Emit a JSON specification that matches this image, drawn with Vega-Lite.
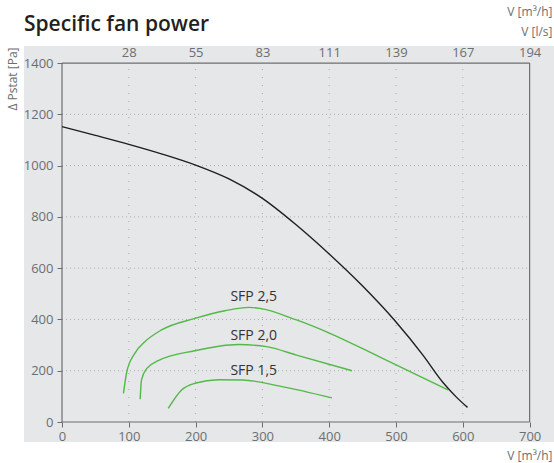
{
  "$schema": "https://vega.github.io/schema/vega-lite/v6.json",
  "width": 530,
  "height": 396,
  "autosize": {"type": "none"},
  "padding": {"left": 24, "top": 46, "right": 0, "bottom": 21},
  "background": "#ffffff",
  "view": {"fill": "#e6e7e8", "stroke": null},
  "title": {
    "text": "Specific fan power",
    "anchor": "start",
    "frame": "group",
    "font": "Open Sans",
    "fontSize": 21,
    "fontWeight": 600,
    "color": "#231f20",
    "offset": 0,
    "dy": 30
  },
  "config": {
    "font": "Open Sans",
    "axis": {
      "labelFont": "Open Sans",
      "titleFont": "Open Sans",
      "labelColor": "#6d6e71",
      "titleColor": "#6d6e71",
      "tickColor": "#6d6e71",
      "labelFontSize": 13,
      "titleFontSize": 12,
      "titleFontWeight": "normal",
      "labelFlush": false,
      "labelOverlap": false,
      "grid": false,
      "domain": false
    }
  },
  "datasets": {
    "curves": [
      {"series": "Fan", "q": 0, "p": 1152},
      {"series": "Fan", "q": 50, "p": 1118},
      {"series": "Fan", "q": 100, "p": 1083},
      {"series": "Fan", "q": 150, "p": 1045},
      {"series": "Fan", "q": 200, "p": 1002},
      {"series": "Fan", "q": 250, "p": 948},
      {"series": "Fan", "q": 300, "p": 872},
      {"series": "Fan", "q": 350, "p": 770},
      {"series": "Fan", "q": 400, "p": 655},
      {"series": "Fan", "q": 450, "p": 530},
      {"series": "Fan", "q": 500, "p": 390},
      {"series": "Fan", "q": 540, "p": 262},
      {"series": "Fan", "q": 570, "p": 155},
      {"series": "Fan", "q": 590, "p": 98},
      {"series": "Fan", "q": 607, "p": 57},
      {"series": "SFP 2,5", "q": 92, "p": 112},
      {"series": "SFP 2,5", "q": 97, "p": 196},
      {"series": "SFP 2,5", "q": 109, "p": 268},
      {"series": "SFP 2,5", "q": 124, "p": 313},
      {"series": "SFP 2,5", "q": 149, "p": 359},
      {"series": "SFP 2,5", "q": 199, "p": 404},
      {"series": "SFP 2,5", "q": 244, "p": 434},
      {"series": "SFP 2,5", "q": 280, "p": 447},
      {"series": "SFP 2,5", "q": 296, "p": 443},
      {"series": "SFP 2,5", "q": 351, "p": 398},
      {"series": "SFP 2,5", "q": 401, "p": 346},
      {"series": "SFP 2,5", "q": 476, "p": 253},
      {"series": "SFP 2,5", "q": 578, "p": 125},
      {"series": "SFP 2,0", "q": 117, "p": 89},
      {"series": "SFP 2,0", "q": 119, "p": 164},
      {"series": "SFP 2,0", "q": 127, "p": 209},
      {"series": "SFP 2,0", "q": 144, "p": 239},
      {"series": "SFP 2,0", "q": 199, "p": 278},
      {"series": "SFP 2,0", "q": 264, "p": 302},
      {"series": "SFP 2,0", "q": 306, "p": 294},
      {"series": "SFP 2,0", "q": 351, "p": 261},
      {"series": "SFP 2,0", "q": 434, "p": 200},
      {"series": "SFP 1,5", "q": 159, "p": 53},
      {"series": "SFP 1,5", "q": 179, "p": 125},
      {"series": "SFP 1,5", "q": 199, "p": 151},
      {"series": "SFP 1,5", "q": 234, "p": 165},
      {"series": "SFP 1,5", "q": 270, "p": 164},
      {"series": "SFP 1,5", "q": 326, "p": 140},
      {"series": "SFP 1,5", "q": 404, "p": 94}
    ],
    "labels": [
      {"label": "SFP 2,5", "q": 287, "p": 486},
      {"label": "SFP 2,0", "q": 287, "p": 335},
      {"label": "SFP 1,5", "q": 287, "p": 197}
    ],
    "gridH": [{"p": 200}, {"p": 400}, {"p": 600}, {"p": 800}, {"p": 1000}, {"p": 1200}],
    "gridV": [{"q": 100}, {"q": 200}, {"q": 300}, {"q": 400}, {"q": 500}, {"q": 600}],
    "frame": [
      {"q": 0, "q2": 0, "p": 0, "p2": 1400},
      {"q": 0, "q2": 700, "p": 0, "p2": 0},
      {"q": 0, "q2": 700, "p": 1400, "p2": 1400},
      {"q": 700, "q2": 700, "p": 0, "p2": 1400}
    ]
  },
  "layer": [
    {
      "data": {"name": "gridH"},
      "mark": {"type": "rule", "color": "#a7a9ac", "strokeWidth": 1, "strokeDash": [1, 3]},
      "encoding": {
        "y": {"field": "p", "type": "quantitative", "scale": {"domain": [-78, 1466.5], "nice": false, "zero": false}, "axis": null},
        "x": {"datum": 0, "type": "quantitative", "scale": {"domain": [-56.9, 736.5], "nice": false, "zero": false}, "axis": null},
        "x2": {"datum": 700}
      }
    },
    {
      "data": {"name": "gridV"},
      "mark": {"type": "rule", "color": "#a7a9ac", "strokeWidth": 1, "strokeDash": [1, 7]},
      "encoding": {
        "x": {"field": "q", "type": "quantitative", "axis": null},
        "y": {"datum": 0, "type": "quantitative", "axis": null},
        "y2": {"datum": 1400}
      }
    },
    {
      "data": {"name": "frame"},
      "mark": {"type": "rule", "color": "#6d6e71", "strokeWidth": 1.2},
      "encoding": {
        "x": {"field": "q", "type": "quantitative", "axis": null},
        "x2": {"field": "q2"},
        "y": {"field": "p", "type": "quantitative", "axis": null},
        "y2": {"field": "p2"}
      }
    },
    {
      "data": {"name": "curves"},
      "mark": {"type": "line", "interpolate": "monotone", "strokeWidth": 1.4},
      "encoding": {
        "x": {
          "field": "q", "type": "quantitative",
          "axis": {
            "orient": "bottom", "offset": -20,
            "values": [0, 100, 200, 300, 400, 500, 600, 700],
            "format": "d",
            "tickSize": 5, "labelPadding": 3,
            "title": "V [m³/h]",
            "titleX": 528, "titleY": 37, "titleAlign": "right", "titleBaseline": "alphabetic"
          }
        },
        "y": {
          "field": "p", "type": "quantitative",
          "axis": {
            "orient": "left", "offset": -38,
            "values": [0, 200, 400, 600, 800, 1000, 1200, 1400],
            "format": "d",
            "tickSize": 5, "labelPadding": 4,
            "title": "Δ Pstat [Pa]",
            "titleAngle": 270, "titleX": -50, "titleY": 1, "titleAlign": "right", "titleBaseline": "middle"
          }
        },
        "color": {
          "field": "series", "type": "nominal",
          "scale": {"domain": ["Fan", "SFP 2,5", "SFP 2,0", "SFP 1,5"], "range": ["#1e1e1e", "#52b947", "#52b947", "#52b947"]},
          "legend": null
        },
        "detail": {"field": "series"}
      }
    },
    {
      "data": {"name": "labels"},
      "mark": {"type": "text", "font": "Open Sans", "fontSize": 14, "color": "#333333", "align": "center", "baseline": "middle"},
      "encoding": {
        "x": {
          "field": "q", "type": "quantitative",
          "axis": {
            "orient": "top", "offset": -17,
            "values": [100, 200, 300, 400, 500, 600, 700],
            "ticks": false, "tickSize": 0, "labelPadding": 4,
            "labelExpr": "{'100':'28','200':'55','300':'83','400':'111','500':'139','600':'167','700':'194'}[datum.value]",
            "title": ["V [m³/h]", "V [l/s]"],
            "titleX": 528, "titleY": -48, "titleAlign": "right", "titleBaseline": "alphabetic", "titleLineHeight": 20
          }
        },
        "y": {"field": "p", "type": "quantitative", "axis": null},
        "text": {"field": "label"}
      }
    }
  ],
  "resolve": {"axis": {"x": "independent", "y": "independent"}}
}
